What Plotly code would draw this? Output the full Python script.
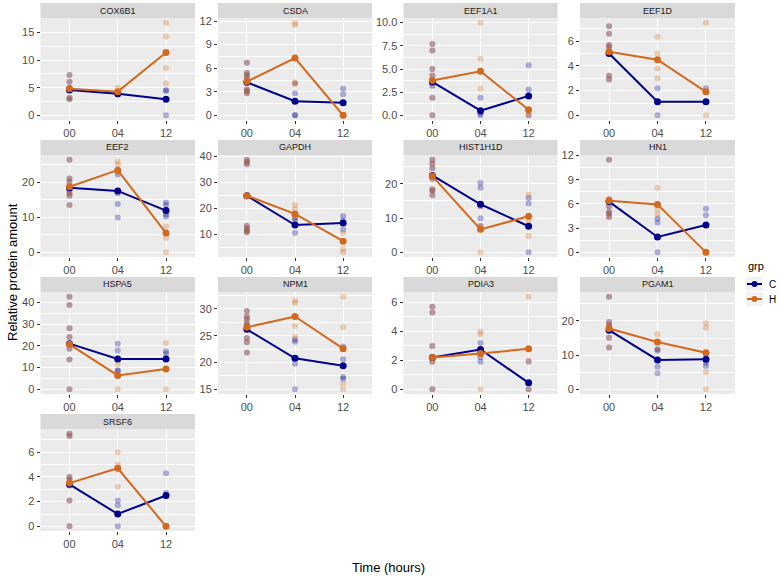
import plotly.graph_objects as go

times = ["00", "04", "12"]
proteins = ["COX6B1", "CSDA", "EEF1A1", "EEF1D", "EEF2", "GAPDH", "HIST1H1D",
            "HN1", "HSPA5", "NPM1", "PDIA3", "PGAM1", "SRSF6"]

# replicate points at time 00 (shared by both groups)
pts00 = {
    "COX6B1": [7.3, 6.1, 5.0, 4.6, 3.2, 2.9],
    "CSDA": [6.7, 5.4, 5.1, 4.7, 3.3, 3.1, 2.8],
    "EEF1A1": [7.7, 7.0, 5.0, 4.3, 3.2, 1.9, 0.0],
    "EEF1D": [7.2, 6.6, 5.7, 5.5, 3.2, 2.9],
    "EEF2": [26.4, 21.0, 20.1, 18.7, 17.7, 16.8, 16.1, 13.5],
    "GAPDH": [38.8, 37.9, 37.0, 13.3, 12.3, 11.4, 10.8],
    "HIST1H1D": [27.0, 25.8, 24.5, 21.4, 18.4, 17.9, 16.6],
    "HN1": [11.5, 6.6, 5.7, 5.0, 4.8, 4.4],
    "HSPA5": [42.6, 38.8, 28.1, 24.0, 18.7, 13.7, 0.0],
    "NPM1": [29.6, 28.6, 28.1, 27.3, 26.9, 24.6, 23.8, 21.9],
    "PDIA3": [5.7, 5.3, 3.0, 1.9, 0.0],
    "PGAM1": [27.1, 19.7, 18.8, 18.0, 15.1, 12.2],
    "SRSF6": [7.5, 7.3, 4.0, 3.8, 3.3, 2.1, 0.0],
}

# replicate points, group C, at 04 and 12
c_pts = {
    "COX6B1": [[3.8, 3.9], [4.6, 4.4, 0.0]],
    "CSDA": [[4.1, 2.8, 0.0, 0.0], [3.4, 2.7, 0.0]],
    "EEF1A1": [[1.9, 0.2, 0.0], [5.4, 2.8, 0.0]],
    "EEF1D": [[2.2, 0.0], [2.2, 1.9]],
    "EEF2": [[22.2, 16.8, 13.8, 9.9], [14.2, 13.5, 12.1, 10.8, 10.2]],
    "GAPDH": [[16.3, 15.4, 10.6], [17.1, 15.4, 11.9]],
    "HIST1H1D": [[20.2, 18.8, 13.4, 9.9, 7.7], [15.8, 14.2, 0.0]],
    "HN1": [[4.2, 3.7, 0.0], [5.4, 4.6]],
    "HSPA5": [[21.0, 17.9, 8.4, 8.8], [17.5, 16.4]],
    "NPM1": [[24.3, 23.9, 19.8, 15.0], [23.0, 20.6, 17.3, 17.0]],
    "PDIA3": [[3.2, 2.2, 1.9], [1.9, 0.0]],
    "PGAM1": [[11.7, 11.3, 6.6, 4.7], [10.4, 7.8, 6.8]],
    "SRSF6": [[2.1, 1.7, 0.0], [4.3, 2.7]],
}

# replicate points, group H, at 04 and 12
h_pts = {
    "COX6B1": [[5.0, 3.8], [16.8, 14.3, 8.6, 5.8]],
    "CSDA": [[11.8, 11.5, 4.2, 4.0], [0.0]],
    "EEF1A1": [[10.0, 6.1, 2.9], [0.5, 0.0]],
    "EEF1D": [[6.35, 5.0, 3.8, 3.0], [7.5, 0.0]],
    "EEF2": [[25.9, 25.0, 22.7], [7.4, 4.1, 0.0]],
    "GAPDH": [[21.3, 19.7, 16.5], [10.6, 4.4, 3.1]],
    "HIST1H1D": [[13.4, 7.7, 0.0], [16.8, 9.1, 4.8]],
    "HN1": [[8.0, 5.3, 4.7], [0.0]],
    "HSPA5": [[11.7, 0.0], [21.3, 0.0]],
    "NPM1": [[31.6, 31.1, 26.8, 24.8], [32.3, 26.6, 16.1, 15.0]],
    "PDIA3": [[4.0, 3.8, 2.5, 0.0], [6.4, 2.0, 0.0]],
    "PGAM1": [[16.1, 11.7], [19.3, 18.0, 5.1, 0.0]],
    "SRSF6": [[6.0, 5.0, 3.2], [0.0]],
}

# group means (lines)
c_mean = {
    "COX6B1": [4.6, 3.9, 2.9], "CSDA": [4.2, 1.8, 1.6], "EEF1A1": [3.6, 0.5, 2.1],
    "EEF1D": [5.0, 1.1, 1.1], "EEF2": [18.4, 17.5, 11.9], "GAPDH": [24.9, 13.6, 14.4],
    "HIST1H1D": [22.4, 14.0, 7.6], "HN1": [6.3, 1.9, 3.4], "HSPA5": [21.0, 14.0, 14.0],
    "NPM1": [26.2, 20.8, 19.4], "PDIA3": [2.2, 2.75, 0.45], "PGAM1": [17.3, 8.6, 8.8],
    "SRSF6": [3.4, 1.0, 2.5],
}
h_mean = {
    "COX6B1": [4.8, 4.3, 11.4], "CSDA": [4.3, 7.3, 0.0], "EEF1A1": [3.75, 4.75, 0.6],
    "EEF1D": [5.15, 4.5, 1.9], "EEF2": [18.7, 23.4, 5.5], "GAPDH": [24.9, 17.9, 7.4],
    "HIST1H1D": [22.2, 6.7, 10.5], "HN1": [6.4, 5.95, 0.0], "HSPA5": [20.7, 6.4, 9.4],
    "NPM1": [26.6, 28.6, 22.6], "PDIA3": [2.2, 2.47, 2.8], "PGAM1": [17.8, 13.85, 10.7],
    "SRSF6": [3.5, 4.7, 0.0],
}

y_step = {"COX6B1": 5, "CSDA": 3, "EEF1A1": 2.5, "EEF1D": 2, "EEF2": 10, "GAPDH": 10,
          "HIST1H1D": 10, "HN1": 3, "HSPA5": 10, "NPM1": 5, "PDIA3": 2, "PGAM1": 10,
          "SRSF6": 2}

W, H = 778, 578
col_x = [(40.5, 195), (218, 372), (403.5, 557.5), (580, 735)]
row_top = [18, 155, 292, 429]
panel_h = 102
strip_h = 15
C_COL = "#00008B"
H_COL = "#D2691E"
FONT = "Liberation Sans, Arial, sans-serif"


def px(x):
    return x / W


def py(y):
    return 1 - y / H


fig = go.Figure()
shapes, annos = [], []

for i, p in enumerate(proteins):
    r, c = divmod(i, 4)
    n = "" if i == 0 else str(i + 1)
    xa, ya = "x" + n, "y" + n

    for col, pts in ((C_COL, c_pts[p]), (H_COL, h_pts[p])):
        xs, ys = [], []
        for t, vals in zip(times, [pts00[p]] + pts):
            xs += [t] * len(vals)
            ys += vals
        fig.add_trace(go.Scatter(x=xs, y=ys, mode="markers", xaxis=xa, yaxis=ya,
                                 marker=dict(color=col, size=6, opacity=0.3),
                                 showlegend=False, hoverinfo="skip"))
    for col, m in ((C_COL, c_mean[p]), (H_COL, h_mean[p])):
        fig.add_trace(go.Scatter(x=times, y=m, mode="lines+markers", xaxis=xa, yaxis=ya,
                                 line=dict(color=col, width=2),
                                 marker=dict(color=col, size=7),
                                 showlegend=False))

    allv = pts00[p] + sum(c_pts[p], []) + sum(h_pts[p], []) + c_mean[p] + h_mean[p]
    lo, hi = min(allv), max(allv)
    pad = 0.05 * (hi - lo)
    x0, x1 = col_x[c]
    top = row_top[r]
    step = y_step[p]

    fig.layout["xaxis" + n] = dict(
        domain=[px(x0), px(x1)], anchor=ya, type="category",
        categoryorder="array", categoryarray=times, range=[-0.6, 2.6],
        showgrid=True, gridcolor="white", gridwidth=1.1, zeroline=False,
        ticks="outside", ticklen=3, tickcolor="#333333",
        tickfont=dict(size=11, color="#4D4D4D", family=FONT), fixedrange=True)
    fig.layout["yaxis" + n] = dict(
        domain=[py(top + panel_h), py(top)], anchor=xa,
        range=[lo - pad, hi + pad], tickmode="linear", tick0=0, dtick=step,
        tickformat=".1f" if p == "EEF1A1" else "",
        showgrid=True, gridcolor="white", gridwidth=1.1, zeroline=False,
        minor=dict(tick0=0, dtick=step / 2, showgrid=True, gridcolor="white", gridwidth=0.5),
        ticks="outside", ticklen=3, tickcolor="#333333",
        tickfont=dict(size=11, color="#4D4D4D", family=FONT), fixedrange=True)

    shapes.append(dict(type="rect", xref="paper", yref="paper", x0=px(x0), x1=px(x1),
                       y0=py(top), y1=py(top - strip_h),
                       fillcolor="#D9D9D9", line=dict(width=0)))
    annos.append(dict(text=p, xref="paper", yref="paper", x=px((x0 + x1) / 2),
                      y=py(top - strip_h / 2), xanchor="center", yanchor="middle",
                      showarrow=False, font=dict(size=9, color="#1A1A1A", family=FONT)))

# axis titles
annos.append(dict(text="Time (hours)", xref="paper", yref="paper", x=px(388), y=py(567),
                  xanchor="center", yanchor="middle", showarrow=False,
                  font=dict(size=13, color="black", family=FONT)))
annos.append(dict(text="Relative protein amount", xref="paper", yref="paper", x=px(12),
                  y=py(272), xanchor="center", yanchor="middle", textangle=-90,
                  showarrow=False, font=dict(size=13, color="black", family=FONT)))

# legend (drawn by hand to fit the narrow right margin)
annos.append(dict(text="grp", xref="paper", yref="paper", x=px(746), y=py(266),
                  xanchor="left", yanchor="middle", showarrow=False,
                  font=dict(size=11, color="black", family=FONT)))
for k, (lab, col) in enumerate((("C", C_COL), ("H", H_COL))):
    cy = 284 + 15 * k
    shapes.append(dict(type="rect", xref="paper", yref="paper", x0=px(746), x1=px(763),
                       y0=py(cy + 7), y1=py(cy - 7),
                       fillcolor="#F2F2F2", line=dict(width=0)))
    shapes.append(dict(type="line", xref="paper", yref="paper", x0=px(747), x1=px(762),
                       y0=py(cy), y1=py(cy), line=dict(color=col, width=2)))
    shapes.append(dict(type="circle", xref="paper", yref="paper", x0=px(751.5), x1=px(757.5),
                       y0=py(cy + 3), y1=py(cy - 3),
                       fillcolor=col, line=dict(width=0)))
    annos.append(dict(text=lab, xref="paper", yref="paper", x=px(767), y=py(cy),
                      xanchor="left", yanchor="middle", showarrow=False,
                      font=dict(size=10, color="black", family=FONT)))

fig.update_layout(width=W, height=H, margin=dict(l=0, r=0, t=0, b=0, autoexpand=False),
                  plot_bgcolor="#EBEBEB", paper_bgcolor="white", showlegend=False,
                  shapes=shapes, annotations=annos, font=dict(family=FONT))

# drop the browser's default 8px body margin so the figure fills the window exactly
fig.write_html("out.html", config={"displayModeBar": False},
               post_script="document.body.style.margin = '0';")
